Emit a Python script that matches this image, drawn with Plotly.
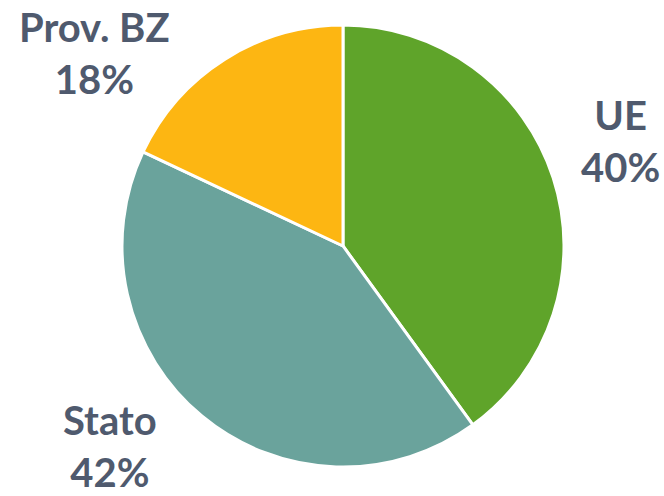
import plotly.graph_objects as go

labels = ["UE", "Stato", "Prov. BZ"]
values = [40, 42, 18]
colors = ["#5FA42A", "#6AA39C", "#FDB612"]
label_pos = {"UE": (0.935, 0.716), "Stato": (0.166, 0.100), "Prov. BZ": (0.143, 0.893)}

fig = go.Figure(go.Pie(
    labels=labels, values=values, sort=False, direction="clockwise", rotation=0,
    marker=dict(colors=colors, line=dict(color="white", width=3)),
    textinfo="none", hoverinfo="label+percent",
    domain=dict(x=[0.1837, 0.8494], y=[0.0585, 0.9496]),
))

total = sum(values)
for lab, v in zip(labels, values):
    x, y = label_pos[lab]
    fig.add_annotation(x=x, y=y, xref="paper", yref="paper", showarrow=False,
                       xanchor="center", yanchor="middle",
                       text=f"<b>{lab}</b><br><b>{round(100*v/total)}%</b>",
                       font=dict(family="Lato", size=40, color="#4F5A6E"),
                       align="center")

fig.update_layout(width=664, height=496, margin=dict(l=0, r=0, t=0, b=0),
                  showlegend=False, paper_bgcolor="white", plot_bgcolor="white")
fig.write_html("out.html")
